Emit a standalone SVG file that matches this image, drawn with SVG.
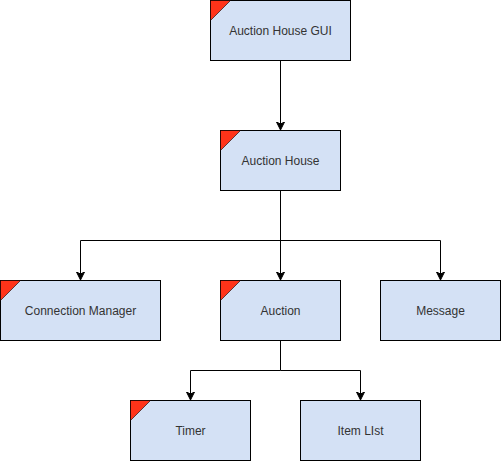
<svg xmlns="http://www.w3.org/2000/svg" width="501" height="461" viewBox="0 0 501 461">
<defs>
<style>
.box{fill:#D4E1F5;stroke:#000;stroke-width:1}
.tri{fill:#FF3319;stroke:#000;stroke-width:0.6}
.lbl{font-family:"Liberation Sans",Arial,sans-serif;font-size:12px;fill:#333;text-anchor:middle;dominant-baseline:central}
.edge{fill:none;stroke:#000;stroke-width:1}
</style>
<marker id="arr" markerWidth="10" markerHeight="10" refX="7" refY="4" orient="auto" markerUnits="userSpaceOnUse">
<path d="M0,0 L8,4 L0,8 L2,4 Z" fill="#000" stroke="#000" stroke-width="1"/>
</marker>
</defs>
<rect width="501" height="461" fill="#fff"/>
<g id="connectors">
<path class="edge" d="M280.5,60 V129" marker-end="url(#arr)"/>
<path class="edge" d="M280.5,190 V240.5 H80.5 V279" marker-end="url(#arr)"/>
<path class="edge" d="M280.5,190 V279" marker-end="url(#arr)"/>
<path class="edge" d="M280.5,240.5 H440.5 V279" marker-end="url(#arr)"/>
<path class="edge" d="M280.5,340 V370.5 H190.5 V399" marker-end="url(#arr)"/>
<path class="edge" d="M280.5,370.5 H360.5 V399" marker-end="url(#arr)"/>
</g>
<g id="node-gui">
<rect class="box" x="210.5" y="0.5" width="140" height="60"/>
<path class="tri" d="M210.5,0.5 H230.5 L210.5,20.5 Z"/>
<text class="lbl" x="280.5" y="30.5">Auction House GUI</text>
</g>
<g id="node-house">
<rect class="box" x="220.5" y="130.5" width="120" height="60"/>
<path class="tri" d="M220.5,130.5 H240.5 L220.5,150.5 Z"/>
<text class="lbl" x="280.5" y="160.5">Auction House</text>
</g>
<g id="node-conn">
<rect class="box" x="0.5" y="280.5" width="160" height="60"/>
<path class="tri" d="M0.5,280.5 H20.5 L0.5,300.5 Z"/>
<text class="lbl" x="80.5" y="310.5">Connection Manager</text>
</g>
<g id="node-auction">
<rect class="box" x="220.5" y="280.5" width="120" height="60"/>
<path class="tri" d="M220.5,280.5 H240.5 L220.5,300.5 Z"/>
<text class="lbl" x="280.5" y="310.5">Auction</text>
</g>
<g id="node-message">
<rect class="box" x="380.5" y="280.5" width="120" height="60"/>
<text class="lbl" x="440.5" y="310.5">Message</text>
</g>
<g id="node-timer">
<rect class="box" x="130.5" y="400.5" width="120" height="60"/>
<path class="tri" d="M130.5,400.5 H150.5 L130.5,420.5 Z"/>
<text class="lbl" x="190.5" y="430.5">Timer</text>
</g>
<g id="node-itemlist">
<rect class="box" x="300.5" y="400.5" width="120" height="60"/>
<text class="lbl" x="360.5" y="430.5">Item LIst</text>
</g>
</svg>
